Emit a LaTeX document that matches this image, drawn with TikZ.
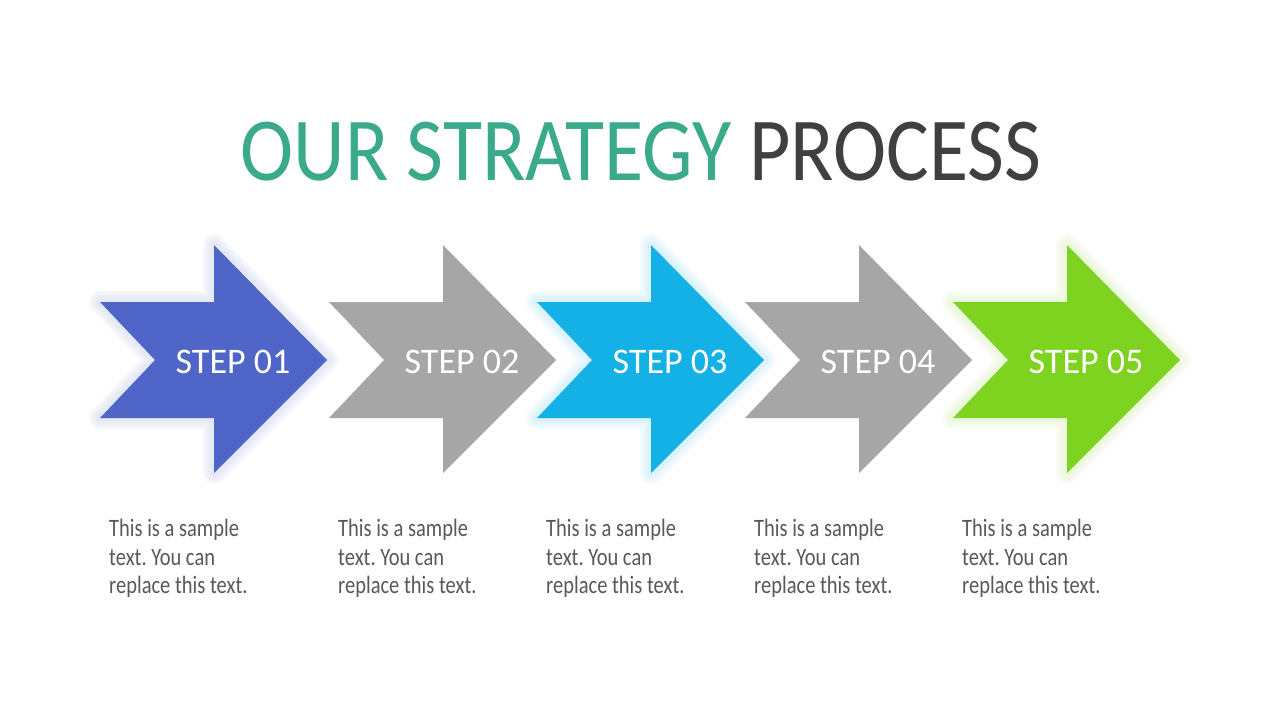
\documentclass[tikz,border=0pt]{standalone}
\usepackage{fontspec}
\setmainfont{Carlito}
\frenchspacing
\definecolor{cblue}{HTML}{4F66C8}
\definecolor{cgray}{HTML}{A6A6A6}
\definecolor{ccyan}{HTML}{14B1E7}
\definecolor{cgreen}{HTML}{7ED321}
\definecolor{titlegreen}{HTML}{3AAA8A}
\definecolor{titledark}{HTML}{404040}
\definecolor{desctext}{HTML}{595959}
\newcommand{\arrowpath}[1]{(#1,302) -- (#1+114,302) -- (#1+114,245) -- (#1+227,360) -- (#1+114,473) -- (#1+114,418) -- (#1,418) -- (#1+55,360) -- cycle}
\tikzset{
  steplabel/.style={text=white, font=\fontsize{36}{40}\selectfont, anchor=base, inner sep=0pt},
  desclabel/.style={text=desctext, font=\fontsize{25}{28.5}\selectfont, anchor=north west, inner sep=0pt, align=left},
}
\begin{document}
\begin{tikzpicture}[x=1pt,y=-1pt]
\useasboundingbox[fill=white] (0,0) rectangle (1280,720);
\node[anchor=base, inner sep=0pt, font=\fontsize{90}{100}\selectfont] (title) at (641,180)
  {\scalebox{0.89}[1]{\color{titlegreen}OUR STRATEGY \color{titledark}PROCESS}};
\foreach \x/\c/\n/\g in {100/cblue/01/1, 329/cgray/02/0, 537/ccyan/03/1, 745/cgray/04/0, 953/cgreen/05/1}{
  \ifnum\g=1
    \foreach \w in {22,17,12,7}{
      \draw[line width=\w pt, draw=\c!30, opacity=0.14, line join=round] \arrowpath{\x};
    }
  \fi
  \fill[\c] \arrowpath{\x};
  \node[steplabel] (step\n) at (\x+133,373) {STEP \n};
  \node[desclabel] (desc\n) at (\x+9,519) {\scalebox{0.82}[1]{This is a sample}\\\scalebox{0.82}[1]{text. You can}\\\scalebox{0.82}[1]{replace this text.}};
}
\end{tikzpicture}
\end{document}
